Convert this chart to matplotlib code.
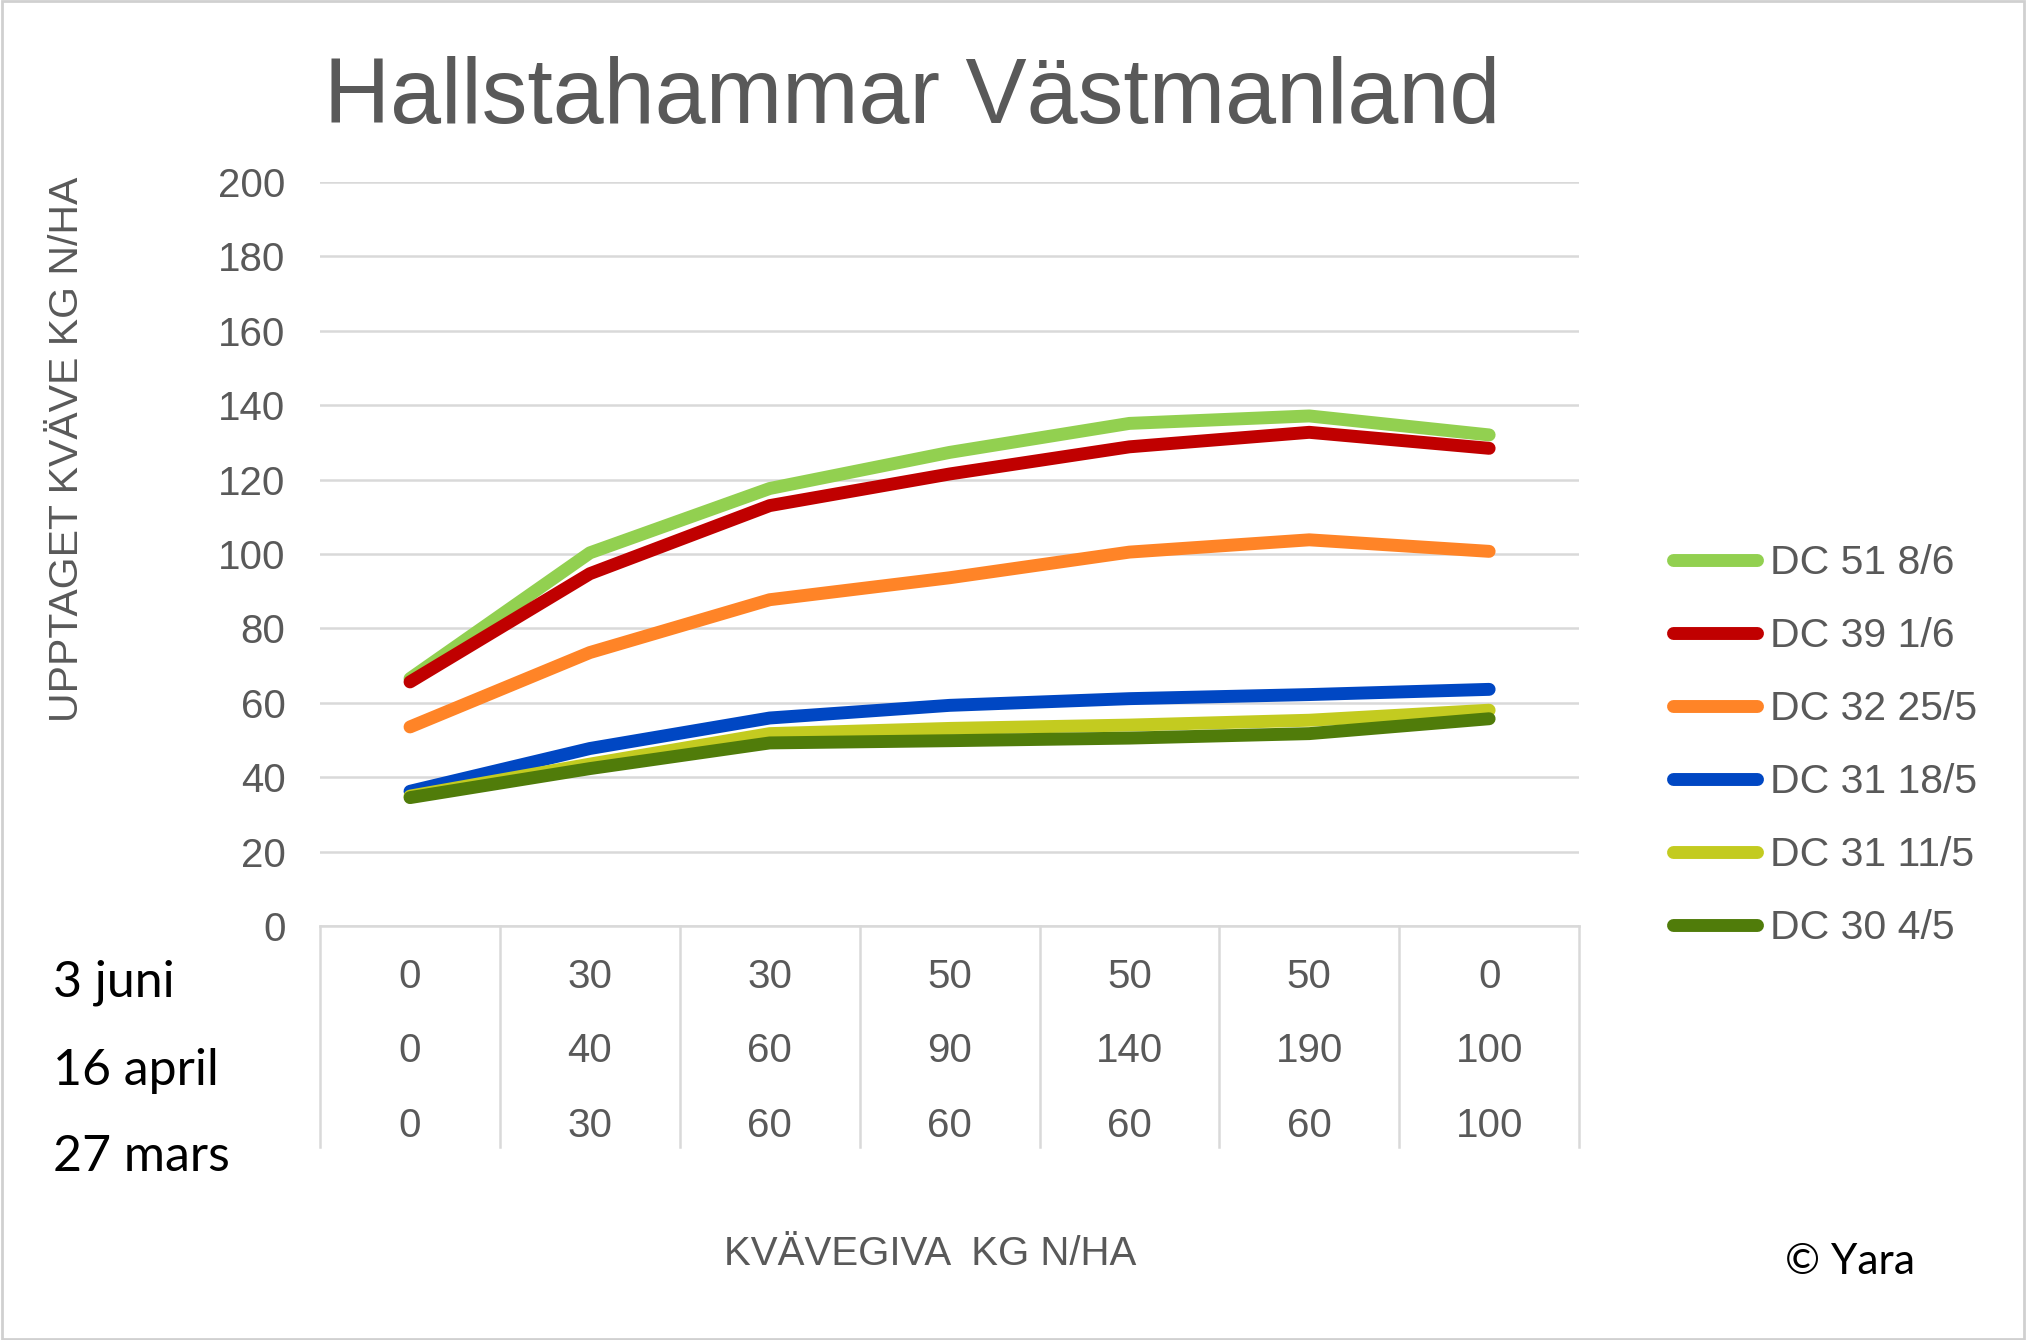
import numpy as np
import matplotlib.pyplot as plt
import matplotlib.transforms as mtransforms
from matplotlib.patches import Rectangle

# values
series_names = ["DC 51 8/6", "DC 39 1/6", "DC 32 25/5", "DC 31 18/5", "DC 31 11/5", "DC 30 4/5"]
series_colors = ["#92d050", "#c00000", "#ff8427", "#0047c3", "#c3cb20", "#507c0a"]
dc51 = [66.5, 100.3, 117.6, 127.3, 135.1, 137.1, 132.0]
dc39 = [65.6, 94.7, 113.0, 121.5, 128.8, 132.7, 128.4]
dc32 = [53.5, 73.5, 87.7, 93.6, 100.5, 103.8, 100.7]
dc31_18 = [36.2, 47.7, 55.9, 59.3, 61.1, 62.2, 63.6]
dc31_11 = [34.9, 43.5, 51.7, 53.1, 54.0, 55.3, 58.0]
dc30 = [34.5, 42.3, 49.2, 49.8, 50.5, 51.7, 55.7]
series = [dc51, dc39, dc32, dc31_18, dc31_11, dc30]

row_labels = ["3 juni", "16 april", "27 mars"]
juni = ["0", "30", "30", "50", "50", "50", "0"]
april = ["0", "40", "60", "90", "140", "190", "100"]
mars = ["0", "30", "60", "60", "60", "60", "100"]
rows = [juni, april, mars]

grey = "#595959"
grid = "#d9d9d9"
font = "Liberation Sans"

fig = plt.figure(figsize=(20.26, 13.4), dpi=100)
fig.patches.append(Rectangle((0.001, 0.001), 0.998, 0.998, transform=fig.transFigure,
                             fill=False, edgecolor="#d0d0d0", linewidth=2))

ax = fig.add_axes([0.158, 0.309, 0.6214, 0.5552])
x = np.arange(len(juni))
for name, col, vals in zip(series_names, series_colors, series):
    ax.plot(x, vals, color=col, linewidth=9.3, solid_capstyle="round",
            solid_joinstyle="round", label=name)

ax.set_xlim(-0.5, len(juni) - 0.5)
ax.set_ylim(0, 200)
ax.set_yticks(np.arange(0, 201, 20))
ax.yaxis.grid(True, color=grid, linewidth=1.8)
ax.set_axisbelow(True)
ax.tick_params(axis="y", length=0, pad=25, labelsize=29, labelcolor=grey)
for lab in ax.get_yticklabels():
    lab.set_fontfamily(font)
ax.set_xticks([])
for s in ["top", "right", "left"]:
    ax.spines[s].set_visible(False)
ax.spines["bottom"].set_color(grid)
ax.spines["bottom"].set_linewidth(1.8)

# category table under the axis
trans = mtransforms.blended_transform_factory(ax.transData, ax.transAxes)
for xb in np.arange(-0.5, len(juni), 1.0):
    ax.plot([xb, xb], [0, -0.297], transform=trans, color=grid, linewidth=1.8, clip_on=False)
row_y = [-0.069, -0.168, -0.269]
for ry, vals in zip(row_y, rows):
    for xi, v in zip(x, vals):
        ax.text(xi, ry, v, transform=trans, ha="center", va="center",
                fontsize=29, color=grey, family=font)

row_fig_y = [0.2665, 0.201, 0.1365]
for ry, lab in zip(row_fig_y, row_labels):
    fig.text(0.026, ry, lab, ha="left", va="center", fontsize=36, color="black", family="Lato")

fig.text(0.450, 0.926, "Hallstahammar Västmanland", ha="center", va="center",
         fontsize=66, color=grey, family=font)
fig.text(0.033, 0.665, "UPPTAGET KVÄVE KG N/HA", rotation=90, ha="center", va="center",
         fontsize=29.5, color=grey, family=font)
fig.text(0.459, 0.064, "KVÄVEGIVA  KG N/HA", ha="center", va="center",
         fontsize=29, color=grey, family=font)
fig.text(0.913, 0.058, "© Yara", ha="center", va="center", fontsize=30.5, color="black", family="Lato")

leg = ax.legend(loc="upper left", bbox_to_anchor=(0.826, 0.594), bbox_transform=fig.transFigure,
                frameon=False, handlelength=2.05, handletextpad=0.3, labelspacing=0.855,
                borderpad=0, borderaxespad=0,
                prop={"family": font, "size": 29.5}, labelcolor=grey)
for h in leg.get_lines():
    h.set_linewidth(9.3)

fig.savefig("out.png", dpi=100)
